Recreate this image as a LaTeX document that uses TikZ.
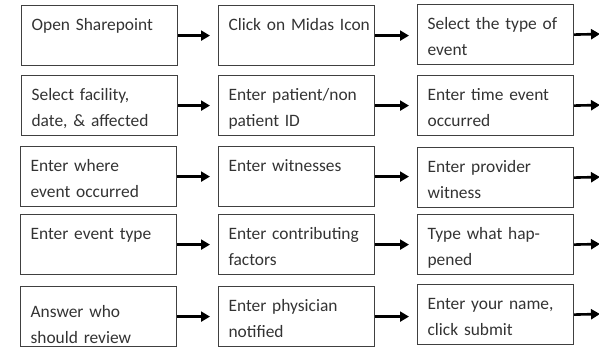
\documentclass[tikz,border=0pt]{standalone}
\usepackage{fontspec}
\setmainfont{Carlito}
\usetikzlibrary{arrows.meta}

\begin{document}
\begin{tikzpicture}[
        x=1pt, y=-1pt,
        line width=1.2pt,
        font=\fontsize{17.4}{26}\selectfont
    ]
    \tikzset{
        stepbox/.style = {rectangle, draw=black!75, text=black!80, anchor=north west, align=left, text width=136pt, inner xsep=10pt, inner ysep=0pt, minimum height=60pt, text height=14pt, text depth=24pt},
        flow/.style = {-{Triangle[length=9pt,width=10pt]}, line width=2.6pt, shorten >=8pt},
    }
    \useasboundingbox (0,0) rectangle (599,347);
    % row 1
    \node[stepbox] (open) at (21,5) {Open Sharepoint};
    \node[stepbox] (midas) at (218,5) {\mbox{Click on Midas Icon}};
    \node[stepbox] (type) at (417,4) {Select the type of\\event};
    % row 2
    \node[stepbox] (facility) at (21,75) {Select facility,\\date, \& affected};
    \node[stepbox] (patient) at (218,75) {Enter patient/non\\patient ID};
    \node[stepbox] (time) at (417,75) {Enter time event\\occurred};
    % row 3
    \node[stepbox] (where) at (20,146) {Enter where\\event occurred};
    \node[stepbox] (witnesses) at (218,146) {Enter witnesses};
    \node[stepbox] (provider) at (417,147) {Enter provider\\witness};
    % row 4
    \node[stepbox] (evtype) at (20,214) {Enter event type};
    \node[stepbox] (factors) at (218,214) {Enter contributing\\factors};
    \node[stepbox] (happened) at (417,214) {Type what hap-\\pened};
    % row 5
    \node[stepbox,text depth=12pt] (review) at (20,286) {Answer who\\should review};
    \node[stepbox] (physician) at (218,286) {Enter physician\\notified};
    \node[stepbox] (submit) at (417,284) {Enter your name,\\click submit};
    % arrows off the right edge
    \coordinate (out1) at (600,34);
    \coordinate (out2) at (600,105);
    \coordinate (out3) at (600,177);
    \coordinate (out4) at (600,244);
    \coordinate (out5) at (600,314);
    \draw[flow] (open.east) -- (midas.west);
    \draw[flow] (midas.east) -- (type.west |- midas.east);
    \draw[flow,shorten >=0pt] (type.east) -- (out1);
    \draw[flow] (facility.east) -- (patient.west);
    \draw[flow] (patient.east) -- (time.west);
    \draw[flow,shorten >=0pt] (time.east) -- (out2);
    \draw[flow] (where.east) -- (witnesses.west |- where.east);
    \draw[flow] (witnesses.east) -- (provider.west |- witnesses.east);
    \draw[flow,shorten >=0pt] (provider.east) -- (out3);
    \draw[flow] (evtype.east) -- (factors.west);
    \draw[flow] (factors.east) -- (happened.west);
    \draw[flow,shorten >=0pt] (happened.east) -- (out4);
    \draw[flow] (review.east) -- (physician.west);
    \draw[flow] (physician.east) -- (submit.west |- physician.east);
    \draw[flow,shorten >=0pt] (submit.east) -- (out5);
\end{tikzpicture}
\end{document}
